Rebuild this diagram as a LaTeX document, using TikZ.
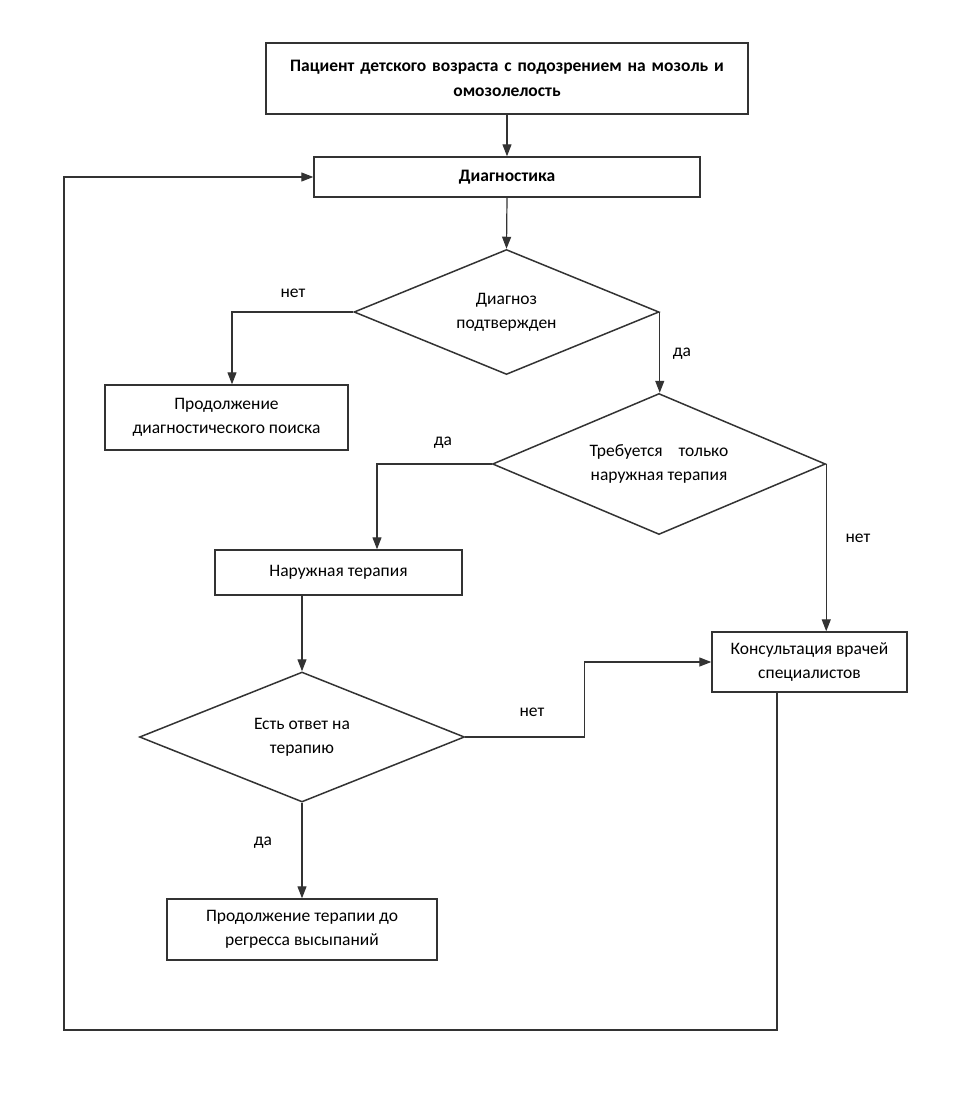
\documentclass[tikz,border=0pt]{standalone}
\usepackage{fontspec}
\setmainfont{Carlito}
\usetikzlibrary{arrows.meta,shapes.geometric}
\definecolor{linec}{HTML}{333333}
\begin{document}
\begin{tikzpicture}[x=1pt,y=-1pt,
  txt/.style={font=\fontsize{17.5}{24}\selectfont, text=black},
  box/.style={draw=linec, line width=1.4pt, fill=white, align=center, inner sep=0pt, txt},
  dia/.style={diamond, draw=linec, line width=1.5pt, fill=white, align=center, inner sep=0pt, txt},
  arr/.style={draw=linec, line width=1.2pt, -{Triangle[length=12pt,width=9pt]}},
  lbl/.style={txt}]
\useasboundingbox[fill=white] (0,0) rectangle (957,1093);

\node[box, line width=2.4pt, minimum width=482pt, minimum height=71pt, text width=470pt, font=\bfseries\fontsize{17.5}{25}\selectfont] (top) at (507,78.5)
  {Пациент детского возраста с подозрением на мозоль и\\омозолелость};
\node[box, minimum width=386pt, minimum height=40pt, font=\bfseries\fontsize{17.5}{24}\selectfont] (diag) at (507,177) {Диагностика};
\node[dia, aspect=2.44, minimum width=305pt, minimum height=125pt] (d1) at (506.5,312) {Диагноз\\подтвержден};
\node[box, minimum width=243pt, minimum height=65pt] (search) at (226.5,417.5) {Продолжение\\диагностического поиска};
\node[dia, aspect=2.36, minimum width=333pt, minimum height=141pt] (d2) at (659,464) {Требуется\ \ \ \ только\\наружная терапия};
\node[box, minimum width=247pt, minimum height=45pt] (ext) at (338.5,572.5) {Наружная терапия};
\node[box, minimum width=195pt, minimum height=60pt] (cons) at (809.5,662) {Консультация врачей\\специалистов};
\node[dia, aspect=2.5, minimum width=325pt, minimum height=130pt] (d3) at (302,737) {Есть ответ на\\терапию};
\node[box, minimum width=270pt, minimum height=61pt] (cont) at (302,929.5) {Продолжение терапии до\\регресса высыпаний};

\coordinate (loopR) at (777,1030);
\coordinate (loopL) at (64,1030);

\draw[arr] (top.south) -- (diag.north);
\draw[arr] (diag.south) -- (d1.north);
\draw[arr] (d1.west) -| ([xshift=5.5pt]search.north);
\draw[arr] (d1.east) -- (d1.east |- d2.north);
\draw[arr] (d2.west) -| ([xshift=38.5pt]ext.north);
\draw[arr] (d2.east) -- (d2.east |- cons.north);
\draw[arr] (ext.south -| d3.north) -- (d3.north);
\draw[arr] (d3.east) -- ++(119pt,0) |- (cons.west);
\draw[arr] (d3.south) -- (cont.north);
\draw[arr] (cons.south -| loopR) -- (loopR) -- (loopL) |- (diag.west);

\node[lbl] (l1) at (293,293) {нет};
\node[lbl] (l2) at (682,354) {да};
\node[lbl] (l3) at (443,443) {да};
\node[lbl] (l4) at (858,538) {нет};
\node[lbl] (l5) at (532,712) {нет};
\node[lbl] (l6) at (263,843) {да};
\end{tikzpicture}
\end{document}
